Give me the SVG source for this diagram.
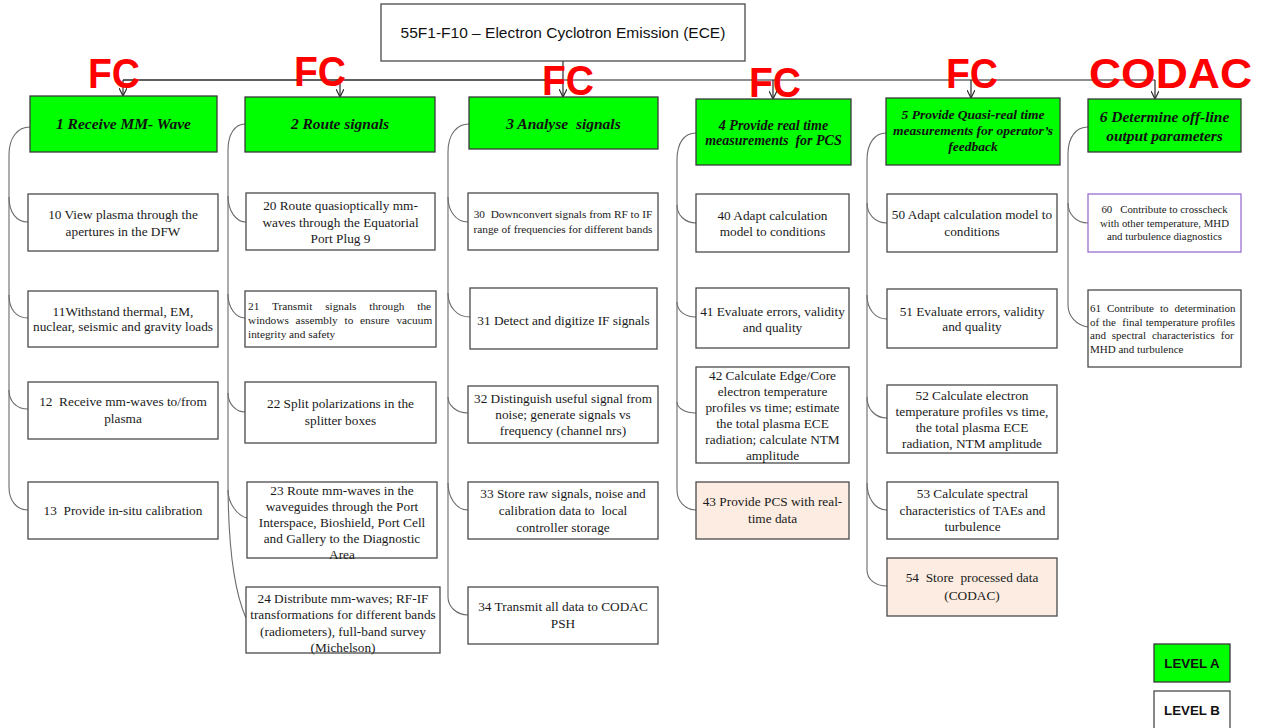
<svg xmlns="http://www.w3.org/2000/svg" width="1262" height="728" viewBox="0 0 1262 728">
<style>
.bg{fill:#ffffff}
.a{fill:#00ff00;stroke:#3a3a3a;stroke-width:1.3}
.b{fill:#ffffff;stroke:#4a4a4a;stroke-width:1.3}
.p{fill:#fcece1;stroke:#4a4a4a;stroke-width:1.3}
.v{fill:#ffffff;stroke:#9a6fd0;stroke-width:1.3}
.ta{font-family:"Liberation Serif","Times New Roman",serif;font-weight:bold;font-style:italic;font-size:15.5px;text-anchor:middle;fill:#111}
.tb{font-family:"Liberation Serif","Times New Roman",serif;font-size:13.3px;text-anchor:middle;fill:#1a1a1a}
.ts{font-family:"Liberation Serif","Times New Roman",serif;font-size:11.3px;text-anchor:middle;fill:#1a1a1a}
.tj{font-family:"Liberation Serif","Times New Roman",serif;font-size:11.3px;fill:#1a1a1a}
.tt{font-family:"Liberation Sans",Arial,sans-serif;font-size:15.5px;text-anchor:middle;fill:#111}
.fc{font-family:"Liberation Sans",Arial,sans-serif;font-weight:bold;font-size:43px;fill:#ff0000}
.lg{font-family:"Liberation Sans",Arial,sans-serif;font-weight:bold;font-size:13.3px;text-anchor:middle;fill:#111}
.bus{fill:none;stroke:#2a2a2a;stroke-width:1.6}
.bus2{fill:none;stroke:#6a6a6a;stroke-width:1.6}
.drop{fill:none;stroke:#2a2a2a;stroke-width:1.2;marker-end:url(#arr)}
.conn{fill:none;stroke:#6a6a6a;stroke-width:1.1}
</style>
<defs>
<marker id="arr" viewBox="0 0 10 10" refX="10" refY="5" markerWidth="8" markerHeight="8" markerUnits="userSpaceOnUse" orient="auto">
<path d="M0,0 L10,5 L0,10" fill="none" stroke="#2a2a2a" stroke-width="1.5"/>
</marker>
</defs>
<rect class="bg" x="0" y="0" width="1262" height="728"/>

<g id="connectors">
<path class="bus" d="M123,80 L563,80"/>
<path class="bus2" d="M563,80 L1155,80"/>
<path class="drop" d="M563,61 L563,97"/>
<path class="drop" d="M123,80 L123,96"/>
<path class="drop" d="M340,80 L340,97"/>
<path class="drop" d="M773,80 L773,99"/>
<path class="drop" d="M971,80 L971,98"/>
<path class="drop" d="M1155,80 L1155,99"/>
<!-- column 1 -->
<path class="conn" d="M30,127 C18,127 9,137 9,155 L9,487 C9,500 16,510 28,510"/>
<path class="conn" d="M9,197 C9,212 16,222 28,222"/>
<path class="conn" d="M9,295 C9,309 16,318 28,318"/>
<path class="conn" d="M9,390 C9,401 16,409 28,409"/>
<!-- column 2 -->
<path class="conn" d="M245,124 C235,124 228,134 228,150 L228,480 C228,560 238,600 246,618"/>
<path class="conn" d="M228,196 C228,211 236,222 246,222"/>
<path class="conn" d="M228,294 C228,308 236,318 245,318"/>
<path class="conn" d="M228,393 C228,404 236,412 245,412"/>
<path class="conn" d="M228,490 C228,504 238,516 247,518"/>
<!-- column 3 -->
<path class="conn" d="M469,124 C457,124 448,134 448,152 L448,597 C448,607 457,615 468,615"/>
<path class="conn" d="M448,197 C448,211 456,222 468,222"/>
<path class="conn" d="M448,293 C448,307 457,317 470,317"/>
<path class="conn" d="M448,397 C448,405 456,413 468,413"/>
<path class="conn" d="M448,483 C448,497 456,510 468,510"/>
<!-- column 4 -->
<path class="conn" d="M696,133 C684,133 677,143 677,160 L677,490 C677,501 685,510 696,510"/>
<path class="conn" d="M677,205 C677,215 685,223 696,223"/>
<path class="conn" d="M677,302 C677,311 685,317 696,317"/>
<path class="conn" d="M677,402 C677,408 685,413 696,413"/>
<!-- column 5 -->
<path class="conn" d="M886,133 C875,133 867,143 867,160 L867,570 C867,579 875,586 887,586"/>
<path class="conn" d="M867,203 C867,214 875,223 887,223"/>
<path class="conn" d="M867,295 C867,309 875,319 887,319"/>
<path class="conn" d="M867,397 C867,409 875,418 887,418"/>
<path class="conn" d="M867,483 C867,498 875,510 887,510"/>
<!-- column 6 -->
<path class="conn" d="M1088,127 C1076,127 1068,137 1068,154 L1068,305 C1068,316 1076,325 1088,327"/>
<path class="conn" d="M1068,203 C1068,214 1076,223 1088,223"/>
</g>

<g id="title">
<rect class="b" x="381" y="4" width="364" height="57"/>
<text class="tt" x="563" y="38">55F1-F10 – Electron Cyclotron Emission (ECE)</text>
</g>

<g id="labels-fc">
<text class="fc" x="88" y="88" textLength="52" lengthAdjust="spacingAndGlyphs">FC</text>
<text class="fc" x="294" y="86" textLength="52" lengthAdjust="spacingAndGlyphs">FC</text>
<text class="fc" x="542" y="95" textLength="52" lengthAdjust="spacingAndGlyphs">FC</text>
<text class="fc" x="749" y="97" textLength="52" lengthAdjust="spacingAndGlyphs">FC</text>
<text class="fc" x="946" y="88" textLength="52" lengthAdjust="spacingAndGlyphs">FC</text>
<text class="fc" x="1089" y="88" textLength="163" lengthAdjust="spacingAndGlyphs">CODAC</text>
</g>

<!-- Level A -->
<g id="n1"><rect class="a" x="30" y="96" width="187" height="56"/>
<text class="ta" x="123.5" y="129">1 Receive MM- Wave</text></g>
<g id="n2"><rect class="a" x="245" y="97" width="190" height="55"/>
<text class="ta" x="340" y="129">2 Route signals</text></g>
<g id="n3"><rect class="a" x="469" y="97" width="189" height="52"/>
<text class="ta" x="563.5" y="129" xml:space="preserve">3 Analyse  signals</text></g>
<g id="n4"><rect class="a" x="696" y="99" width="155" height="66"/>
<text class="ta" style="font-size:14px"><tspan x="773.5" y="129.5">4 Provide real time</tspan><tspan x="773.5" y="145" xml:space="preserve">measurements  for PCS</tspan></text></g>
<g id="n5"><rect class="a" x="886" y="98" width="174" height="67"/>
<text class="ta" style="font-size:13.5px"><tspan x="973" y="119">5 Provide Quasi-real time</tspan><tspan x="973" y="135">measurements for operator’s</tspan><tspan x="973" y="151">feedback</tspan></text></g>
<g id="n6"><rect class="a" x="1088" y="99" width="153" height="53"/>
<text class="ta"><tspan x="1164.5" y="122">6 Determine off-line</tspan><tspan x="1164.5" y="140.5">output parameters</tspan></text></g>

<!-- Column 1 -->
<g id="n10"><rect class="b" x="28" y="194" width="190" height="57"/>
<text class="tb"><tspan x="123" y="219">10 View plasma through the</tspan><tspan x="123" y="236">apertures in the DFW</tspan></text></g>
<g id="n11"><rect class="b" x="28" y="291" width="190" height="56"/>
<text class="tb"><tspan x="123" y="316">11Withstand thermal, EM,</tspan><tspan x="123" y="331">nuclear, seismic and gravity loads</tspan></text></g>
<g id="n12"><rect class="b" x="28" y="382" width="190" height="57"/>
<text class="tb"><tspan x="123" y="406" xml:space="preserve">12  Receive mm-waves to/from</tspan><tspan x="123" y="423">plasma</tspan></text></g>
<g id="n13"><rect class="b" x="28" y="482" width="190" height="57"/>
<text class="tb" x="123" y="514.5" xml:space="preserve">13  Provide in-situ calibration</text></g>

<!-- Column 2 -->
<g id="n20"><rect class="b" x="246" y="193" width="189" height="57"/>
<text class="tb"><tspan x="340.5" y="210">20 Route quasioptically mm-</tspan><tspan x="340.5" y="226.5">waves through the Equatorial</tspan><tspan x="340.5" y="243">Port Plug 9</tspan></text></g>
<g id="n21"><rect class="b" x="245" y="291" width="191" height="56"/>
<text class="tj"><tspan x="248" y="310" style="word-spacing:10px">21 Transmit signals through the</tspan><tspan x="248" y="323.5" style="word-spacing:4px">windows assembly to ensure vacuum</tspan><tspan x="248" y="337.5">integrity and safety</tspan></text></g>
<g id="n22"><rect class="b" x="245" y="382" width="191" height="61"/>
<text class="tb"><tspan x="340.5" y="407.5">22 Split polarizations in the</tspan><tspan x="340.5" y="425">splitter boxes</tspan></text></g>
<g id="n23"><rect class="b" x="247" y="482" width="190" height="76"/>
<text class="tb"><tspan x="342" y="494.5">23 Route mm-waves in the</tspan><tspan x="342" y="510.5">waveguides through the Port</tspan><tspan x="342" y="526.5">Interspace, Bioshield, Port Cell</tspan><tspan x="342" y="542.5">and Gallery to the Diagnostic</tspan><tspan x="342" y="559">Area</tspan></text></g>
<g id="n24"><rect class="b" x="246" y="587" width="194" height="66"/>
<text class="tb"><tspan x="343" y="602.5">24 Distribute mm-waves; RF-IF</tspan><tspan x="343" y="619">transformations for different bands</tspan><tspan x="343" y="635.5">(radiometers), full-band survey</tspan><tspan x="343" y="651.5">(Michelson)</tspan></text></g>

<!-- Column 3 -->
<g id="n30"><rect class="b" x="468" y="193" width="190" height="57"/>
<text class="ts"><tspan x="563" y="218" xml:space="preserve">30  Downconvert signals from RF to IF</tspan><tspan x="563" y="233">range of frequencies for different bands</tspan></text></g>
<g id="n31"><rect class="b" x="470" y="288" width="187" height="61"/>
<text class="tb" x="563.5" y="324.5">31 Detect and digitize IF signals</text></g>
<g id="n32"><rect class="b" x="468" y="386" width="190" height="57"/>
<text class="tb"><tspan x="563" y="402.5">32 Distinguish useful signal from</tspan><tspan x="563" y="418.5">noise; generate signals vs</tspan><tspan x="563" y="434.5">frequency (channel nrs)</tspan></text></g>
<g id="n33"><rect class="b" x="468" y="482" width="190" height="57"/>
<text class="tb"><tspan x="563" y="497.5">33 Store raw signals, noise and</tspan><tspan x="563" y="514.5" xml:space="preserve">calibration data to  local</tspan><tspan x="563" y="531.5">controller storage</tspan></text></g>
<g id="n34"><rect class="b" x="468" y="587" width="190" height="57"/>
<text class="tb"><tspan x="563" y="611">34 Transmit all data to CODAC</tspan><tspan x="563" y="627.5">PSH</tspan></text></g>

<!-- Column 4 -->
<g id="n40"><rect class="b" x="696" y="194" width="153" height="58"/>
<text class="tb"><tspan x="772.5" y="219.5">40 Adapt calculation</tspan><tspan x="772.5" y="236">model to conditions</tspan></text></g>
<g id="n41"><rect class="b" x="696" y="288" width="153" height="60"/>
<text class="tb"><tspan x="772.5" y="315.5">41 Evaluate errors, validity</tspan><tspan x="772.5" y="332">and quality</tspan></text></g>
<g id="n42"><rect class="b" x="696" y="367" width="153" height="96"/>
<text class="tb"><tspan x="772.5" y="379.5">42 Calculate Edge/Core</tspan><tspan x="772.5" y="396">electron temperature</tspan><tspan x="772.5" y="411.5">profiles vs time; estimate</tspan><tspan x="772.5" y="427.5">the total plasma ECE</tspan><tspan x="772.5" y="443.5">radiation; calculate NTM</tspan><tspan x="772.5" y="459.5">amplitude</tspan></text></g>
<g id="n43"><rect class="p" x="696" y="482" width="153" height="57"/>
<text class="tb"><tspan x="772.5" y="506">43 Provide PCS with real-</tspan><tspan x="772.5" y="523">time data</tspan></text></g>

<!-- Column 5 -->
<g id="n50"><rect class="b" x="887" y="194" width="170" height="58"/>
<text class="tb"><tspan x="972" y="219">50 Adapt calculation model to</tspan><tspan x="972" y="236">conditions</tspan></text></g>
<g id="n51"><rect class="b" x="887" y="289" width="170" height="59"/>
<text class="tb"><tspan x="972" y="315.5">51 Evaluate errors, validity</tspan><tspan x="972" y="331">and quality</tspan></text></g>
<g id="n52"><rect class="b" x="887" y="385" width="170" height="68"/>
<text class="tb"><tspan x="972" y="399.5">52 Calculate electron</tspan><tspan x="972" y="415.5">temperature profiles vs time,</tspan><tspan x="972" y="431.5">the total plasma ECE</tspan><tspan x="972" y="448">radiation, NTM amplitude</tspan></text></g>
<g id="n53"><rect class="b" x="887" y="482" width="171" height="57"/>
<text class="tb"><tspan x="972.5" y="498">53 Calculate spectral</tspan><tspan x="972.5" y="514.5">characteristics of TAEs and</tspan><tspan x="972.5" y="531">turbulence</tspan></text></g>
<g id="n54"><rect class="p" x="887" y="558" width="170" height="58"/>
<text class="tb"><tspan x="972" y="582" xml:space="preserve">54  Store  processed data</tspan><tspan x="972" y="599.5">(CODAC)</tspan></text></g>

<!-- Column 6 -->
<g id="n60"><rect class="v" x="1088" y="194" width="153" height="58"/>
<text class="ts" style="font-size:10.8px"><tspan x="1164.5" y="213" xml:space="preserve">60   Contribute to crosscheck</tspan><tspan x="1164.5" y="226.5">with other temperature, MHD</tspan><tspan x="1164.5" y="240">and turbulence diagnostics</tspan></text></g>
<g id="n61"><rect class="b" x="1088" y="290" width="153" height="77"/>
<text class="tj" style="font-size:11px"><tspan x="1090" y="312" style="word-spacing:3.2px">61 Contribute to determination</tspan><tspan x="1090" y="325.5" style="word-spacing:0.5px" xml:space="preserve">of the  final temperature profiles</tspan><tspan x="1090" y="339" style="word-spacing:3.2px">and spectral characteristics for</tspan><tspan x="1090" y="352.5">MHD and turbulence</tspan></text></g>

<!-- Legend -->
<g id="legend-a"><rect class="a" x="1154" y="644" width="76" height="38"/>
<text class="lg" x="1192" y="667.5">LEVEL A</text></g>
<g id="legend-b"><rect class="b" x="1154" y="691" width="76" height="40"/>
<text class="lg" x="1192" y="715">LEVEL B</text></g>
</svg>
